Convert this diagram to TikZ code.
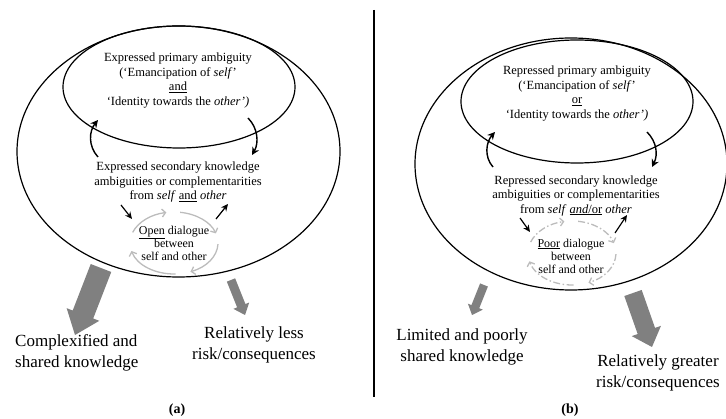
\documentclass[tikz,border=0pt]{standalone}
\usepackage{fontspec}
\setmainfont{Liberation Serif}
\usetikzlibrary{shapes.geometric,arrows.meta,calc}
\definecolor{fatgray}{RGB}{128,128,128}
\definecolor{cyclegray}{RGB}{188,188,188}
\tikzset{
  ring/.style={draw, ellipse, line width=1.2pt, inner sep=0pt},
  maintext/.style={align=center, inner sep=0pt, font=\fontsize{12.5}{14.5}\selectfont},
  dialtext/.style={align=center, inner sep=0pt, font=\fontsize{12}{13}\selectfont},
  bigtext/.style={align=center, inner sep=0pt, font=\fontsize{17}{20.5}\selectfont},
  labeltext/.style={inner sep=0pt, font=\fontsize{14}{16}\selectfont\bfseries},
  curvearrow/.style={line width=1.4pt, -{Stealth[length=7.5pt,width=7.5pt]}},
  shortarrow/.style={line width=1.2pt, -{Stealth[length=7pt,width=6.5pt]}},
  cyc/.style={cyclegray, line width=1.3pt, -{Straight Barb[length=3.5pt,width=8pt]}},
  cycdash/.style={cyc, dash pattern=on 7pt off 2.5pt on 1.5pt off 2.5pt},
}
% #1 start, #2 end, #3 shaft half-width, #4 head half-width, #5 head length
\newcommand\fatarrow[5]{%
  \path ($(#2)!#5!(#1)$) coordinate (fa-h);
  \fill[fatgray] ($(#1)!#3!90:(#2)$) -- ($(fa-h)!#3!90:(#2)$) -- ($(fa-h)!#4!90:(#2)$)
    -- (#2) -- ($(fa-h)!#4!-90:(#2)$) -- ($(fa-h)!#3!-90:(#2)$) -- ($(#1)!#3!-90:(#2)$) -- cycle;
}
\begin{document}
\begin{tikzpicture}[x=1pt,y=-1pt]
\useasboundingbox (0,0) rectangle (726,419);

% ---------------- panel (a) ----------------
\node[ring, minimum width=323pt, minimum height=251pt] (louter) at (178.5,151.5) {};
\node[ring, minimum width=232pt, minimum height=122pt] (linner) at (179,87) {};

\node[maintext] (lprim) at (178,80.5) {Expressed primary ambiguity\\(‘Emancipation of \textit{self}’\\\underline{and}\\‘Identity towards the \textit{other’)}};
\node[maintext] (lsec) at (178,182) {Expressed secondary knowledge\\ambiguities or complementarities\\from \textit{self} \underline{and} \textit{other}};
\node[dialtext] (ldial) at (174,243) {\underline{Open} dialogue\\between\\self and other};

\coordinate (lua) at (98,157);  \coordinate (lub) at (98,120);
\coordinate (lda) at (248,118); \coordinate (ldb) at (252,155);
\draw[curvearrow] (lua) .. controls (88,146) and (89,131) .. (lub);
\draw[curvearrow] (lda) .. controls (258,128) and (259,143) .. (ldb);

\coordinate (lsa) at (121,205); \coordinate (lsb) at (132,219);
\coordinate (lra) at (216,219); \coordinate (lrb) at (228,204);
\draw[shortarrow] (lsa) -- (lsb);
\draw[shortarrow] (lra) -- (lrb);

\coordinate (lc) at (174,243);
\draw[cyc] ($(lc)+(160:44pt and 31pt)$) arc[start angle=160, end angle=100, x radius=44pt, y radius=31pt];
\draw[cyc] ($(lc)+(82:44pt and 31pt)$) arc[start angle=82, end angle=18, x radius=44pt, y radius=31pt];
\draw[cyc] ($(lc)+(-2:44pt and 31pt)$) arc[start angle=-2, end angle=-68, x radius=44pt, y radius=31pt];
\draw[cyc] ($(lc)+(-88:44pt and 31pt)$) arc[start angle=-88, end angle=-165, x radius=44pt, y radius=31pt];

\coordinate (lba) at (101,268); \coordinate (lbb) at (75,335);
\fatarrow{lba}{lbb}{11pt}{17.5pt}{22pt}
\coordinate (lsa2) at (231,280); \coordinate (lsb2) at (245,315);
\fatarrow{lsa2}{lsb2}{4.5pt}{8.5pt}{10pt}

\node[bigtext, align=left, anchor=west] (lout1) at (15,353) {Complexified and\\shared knowledge};
\node[bigtext] (lout2) at (254,345) {Relatively less\\risk/consequences};
\node[labeltext] (la) at (177,410) {(a)};

% divider
\coordinate (dtop) at (374,10); \coordinate (dbot) at (374,397);
\draw[line width=2pt] (dtop) -- (dbot);

% ---------------- panel (b) ----------------
\node[ring, minimum width=312pt, minimum height=252pt] (router) at (571,164) {};
\node[ring, minimum width=232pt, minimum height=123pt] (rinner) at (577,101.5) {};

\node[maintext] (rprim) at (577,93.5) {Repressed primary ambiguity\\(‘Emancipation of \textit{self}’\\\underline{or}\\‘Identity towards the \textit{other’)}};
\node[maintext] (rsec) at (576,195.5) {Repressed secondary knowledge\\ambiguities or complementarities\\from \textit{self} \underline{\textit{and}/or} \textit{other}};
\node[dialtext] (rdial) at (571,256) {\underline{Poor} dialogue\\between\\self and other};

\coordinate (rua) at (493,167); \coordinate (rub) at (495,132);
\coordinate (rda) at (647,132); \coordinate (rdb) at (652,167);
\draw[curvearrow] (rua) .. controls (484,157) and (486,142) .. (rub);
\draw[curvearrow] (rda) .. controls (657,142) and (658,155) .. (rdb);

\coordinate (rsa) at (520,218); \coordinate (rsb) at (530,232);
\coordinate (rra) at (615,233); \coordinate (rrb) at (627,215);
\draw[shortarrow] (rsa) -- (rsb);
\draw[shortarrow] (rra) -- (rrb);

\coordinate (rc) at (572,253);
\draw[cycdash] ($(rc)+(160:44pt and 32pt)$) arc[start angle=160, end angle=100, x radius=44pt, y radius=32pt];
\draw[cycdash] ($(rc)+(82:44pt and 32pt)$) arc[start angle=82, end angle=18, x radius=44pt, y radius=32pt];
\draw[cycdash] ($(rc)+(-2:44pt and 32pt)$) arc[start angle=-2, end angle=-68, x radius=44pt, y radius=32pt];
\draw[cycdash] ($(rc)+(-88:44pt and 32pt)$) arc[start angle=-88, end angle=-165, x radius=44pt, y radius=32pt];

\coordinate (rba) at (484,285); \coordinate (rbb) at (472,315);
\fatarrow{rba}{rbb}{4.2pt}{8pt}{9pt}
\coordinate (rga) at (633,293); \coordinate (rgb) at (652,347);
\fatarrow{rga}{rgb}{9.2pt}{15.5pt}{17pt}

\node[bigtext] (rout1) at (462,347) {Limited and poorly\\shared knowledge};
\node[bigtext] (rout2) at (658,373) {Relatively greater\\risk/consequences};
\node[labeltext] (rb) at (570,410) {(b)};
\end{tikzpicture}
\end{document}
